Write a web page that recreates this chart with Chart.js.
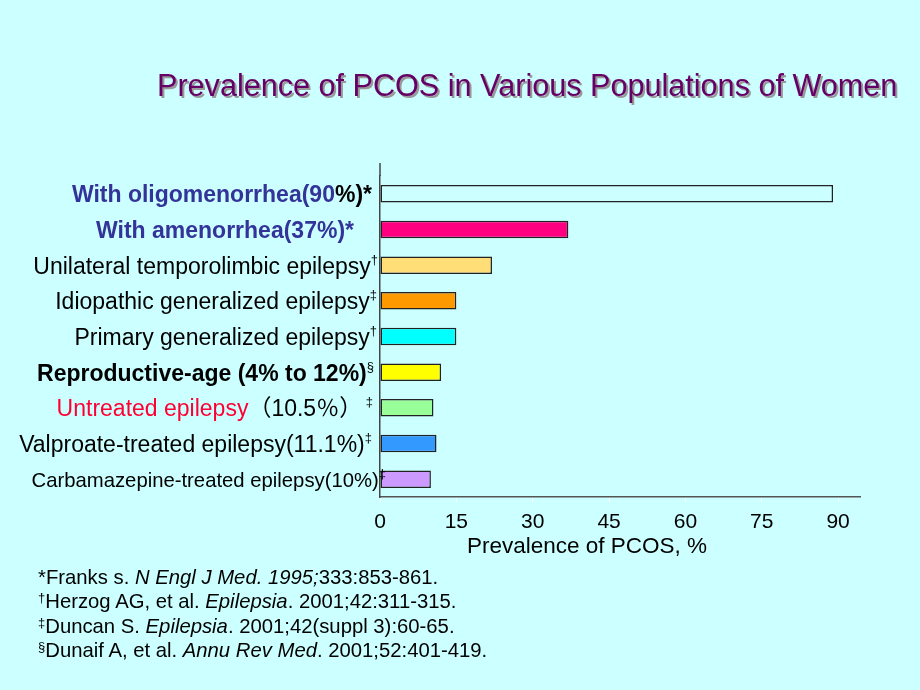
<!DOCTYPE html>
<html>
<head>
<meta charset="utf-8">
<script src="https://cdn.jsdelivr.net/npm/chart.js@4.4.0/dist/chart.umd.min.js"></script>
<style>
  html, body { margin: 0; padding: 0; background: #ccffff; }
  #wrap { position: relative; width: 920px; height: 690px; overflow: hidden; }
  #chart { position: absolute; left: 0; top: 0; }
  #title { position: absolute; left: 157px; top: 68px; white-space: nowrap;
           font: 30.6px "Liberation Sans", Arial, sans-serif; color: #660066;
           text-shadow: 2px 2px 0 #999999; }
  #notes { position: absolute; left: 38px; top: 565px; white-space: nowrap;
           font: 20.3px "Liberation Sans", Arial, sans-serif; line-height: 24.4px; color: #000; }
  #notes div { height: 24.4px; }
  #notes .s { font-size: 13px; line-height: 1; position: relative; top: -6px; }
</style>
</head>
<body>
<div id="wrap">
  <canvas id="chart" width="920" height="690"></canvas>
  <div id="title">Prevalence of PCOS in Various Populations of Women</div>
  <div id="notes">
    <div>*Franks s. <i>N Engl J Med. 1995;</i>333:853-861.</div>
    <div><span class="s">†</span>Herzog AG, et al. <i>Epilepsia</i>. 2001;42:311-315.</div>
    <div><span class="s">‡</span>Duncan S. <i>Epilepsia</i>. 2001;42(suppl 3):60-65.</div>
    <div><span class="s">§</span>Dunaif A, et al. <i>Annu Rev Med</i>. 2001;52:401-419.</div>
  </div>
</div>
<script>
// Chart data
const categories = [
  'With oligomenorrhea(90%)*',
  'With amenorrhea(37%)*',
  'Unilateral temporolimbic epilepsy†',
  'Idiopathic generalized epilepsy‡',
  'Primary generalized epilepsy†',
  'Reproductive-age (4% to 12%)§',
  'Untreated epilepsy（10.5％） ‡',
  'Valproate-treated epilepsy(11.1%)‡',
  'Carbamazepine-treated epilepsy(10%)‡'
];
const prevalence = [89, 37, 22, 15, 15, 12, 10.5, 11.1, 10];
const xTicks = [0, 15, 30, 45, 60, 75, 90];
const xTitle = 'Prevalence of PCOS, %';

const barColors = ['#ccffff', '#ff0080', '#ffdd77', '#ff9900', '#00ffff',
                   '#ffff00', '#99ff99', '#3399ff', '#cc99ff'];

const FONT = '"Liberation Sans", Arial, "Noto Sans CJK SC", sans-serif';
const NAVY = '#333399';

// how each category label is drawn (mixed colours / bold / superscripts)
const labelRuns = [
  { right: 372, size: 23, runs: [{ t: 'With oligomenorrhea(90', c: NAVY, b: true }, { t: '%)*', b: true }] },
  { right: 354, size: 23, runs: [{ t: 'With amenorrhea(37%)*', c: NAVY, b: true }] },
  { right: 378, size: 23, runs: [{ t: 'Unilateral temporolimbic epilepsy' }, { t: '†', sup: true }] },
  { right: 377, size: 23, runs: [{ t: 'Idiopathic generalized epilepsy' }, { t: '‡', sup: true }] },
  { right: 377, size: 23, runs: [{ t: 'Primary generalized epilepsy' }, { t: '†', sup: true }] },
  { right: 374, size: 23, runs: [{ t: 'Reproductive-age (4% to 12%)', b: true }, { t: '§', sup: true }] },
  { right: 373, size: 23, runs: [{ t: 'Untreated epilepsy', c: '#ff0033' }, { t: '（10.5％）' }, { t: ' ‡', sup: true }] },
  { right: 372, size: 23, runs: [{ t: 'Valproate-treated epilepsy(11.1%)' }, { t: '‡', sup: true }] },
  { right: 386, size: 20.3, runs: [{ t: 'Carbamazepine-treated epilepsy(10%)' }, { t: '‡', sup: true }] }
];

function runFont(r, size) {
  const s = r.sup ? 13 : size;
  return (r.b ? 'bold ' : '') + s + 'px ' + FONT;
}

const labelPlugin = {
  id: 'labelPlugin',
  beforeDraw(chart) {
    const ctx = chart.ctx;
    const a = chart.chartArea;
    ctx.save();
    ctx.strokeStyle = '#444';
    ctx.lineWidth = 1.5;
    ctx.beginPath();
    ctx.moveTo(a.left, a.top - 13);
    ctx.lineTo(a.left, a.top);
    ctx.stroke();
    ctx.restore();
  },
  afterDraw(chart) {
    const ctx = chart.ctx;
    const yScale = chart.scales.y;
    const xScale = chart.scales.x;
    ctx.save();
    ctx.textBaseline = 'middle';
    ctx.textAlign = 'left';
    labelRuns.forEach((lab, i) => {
      const y = yScale.getPixelForValue(i) + 2;
      let total = 0;
      lab.runs.forEach(r => { ctx.font = runFont(r, lab.size); total += ctx.measureText(r.t).width; });
      let x = lab.right - total;
      lab.runs.forEach(r => {
        ctx.font = runFont(r, lab.size);
        ctx.fillStyle = r.c || '#000';
        ctx.fillText(r.t, x, r.sup ? y - 7 : y);
        x += ctx.measureText(r.t).width;
      });
    });
    // axis title, centred a little left of the axis middle like the slide
    ctx.font = '22.5px ' + FONT;
    ctx.fillStyle = '#000';
    ctx.textAlign = 'center';
    ctx.fillText(xTitle, (xScale.getPixelForValue(0) + xScale.getPixelForValue(90)) / 2 - 22, xScale.bottom - 16);
    ctx.restore();
  }
};

const ctx = document.getElementById('chart').getContext('2d');
new Chart(ctx, {
  type: 'bar',
  data: {
    labels: categories,
    datasets: [{
      data: prevalence,
      backgroundColor: barColors,
      borderColor: '#222',
      borderWidth: 1.5,
      borderSkipped: false,
      categoryPercentage: 1,
      barPercentage: 0.49
    }]
  },
  options: {
    indexAxis: 'y',
    responsive: false,
    animation: false,
    events: [],
    layout: { padding: { left: 380, top: 176, right: 60, bottom: 127 } },
    plugins: { legend: { display: false }, tooltip: { enabled: false } },
    scales: {
      x: {
        type: 'linear',
        min: 0,
        max: 94.3,
        afterBuildTicks: s => { s.ticks = xTicks.map(v => ({ value: v })); },
        afterFit: s => { s.height = 66; },
        ticks: { color: '#000', font: { family: FONT, size: 21 }, padding: 8, maxRotation: 0 },
        grid: { drawOnChartArea: false, drawTicks: true, tickLength: 5, color: '#ffffff' },
        border: { color: '#555', width: 1.5 },
        title: { display: false }
      },
      y: {
        type: 'category',
        afterFit: s => { s.width = 0; },
        ticks: { display: false },
        grid: { display: false },
        border: { color: '#444', width: 1.5 }
      }
    }
  },
  plugins: [labelPlugin]
});
</script>
</body>
</html>
